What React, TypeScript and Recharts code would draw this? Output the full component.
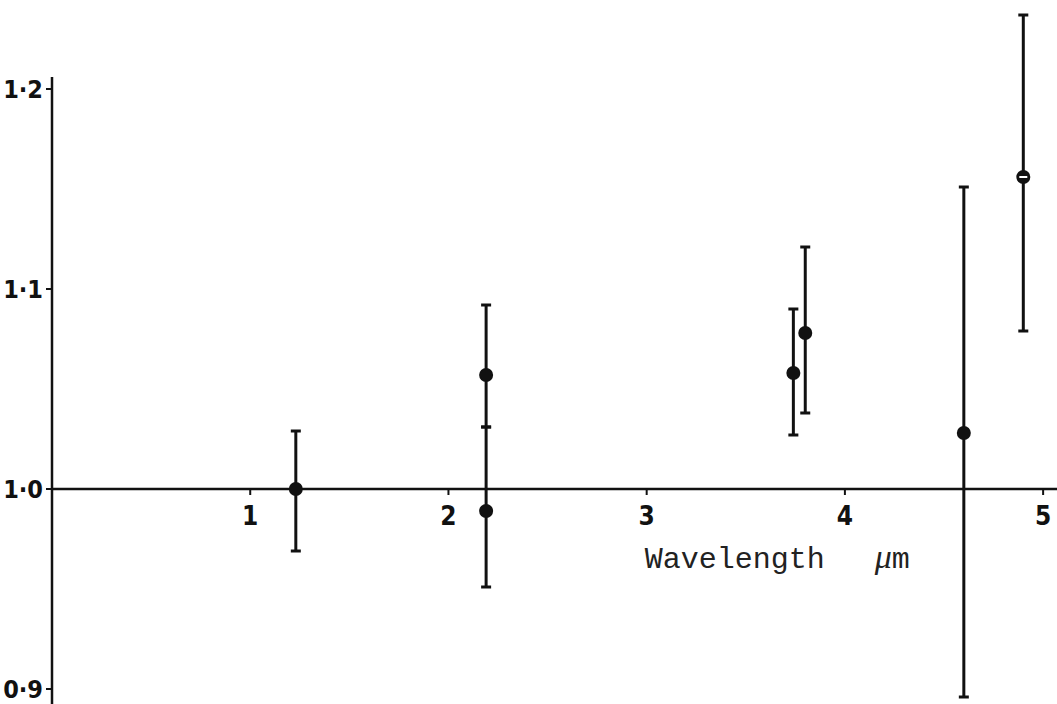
/**
 * Relative flux vs wavelength, with asymmetric error bars.
 */
import {
  ScatterChart,
  Scatter,
  XAxis,
  YAxis,
  ErrorBar,
  ReferenceLine,
  ReferenceDot,
} from 'recharts'

// filled points
const wavelength = [1.23, 2.19, 2.19, 3.74, 3.8, 4.6]
const ratio = [1.0, 1.057, 0.989, 1.058, 1.078, 1.028]
const errLow = [0.969, 1.031, 0.951, 1.027, 1.038, 0.896]
const errHigh = [1.029, 1.092, 1.031, 1.09, 1.121, 1.151]

// the open (barred) point at 4.9 um
const openWavelength = [4.9]
const openRatio = [1.156]
const openLow = [1.079]
const openHigh = [1.237]

const xTicks = [1, 2, 3, 4, 5]
const yTicks = [0.9, 1.0, 1.1, 1.2]

const toRows = (xs: number[], ys: number[], lo: number[], hi: number[]) =>
  xs.map((x, i) => ({ x, y: ys[i], err: [ys[i] - lo[i], hi[i] - ys[i]] }))

const filled = toRows(wavelength, ratio, errLow, errHigh)
const open = toRows(openWavelength, openRatio, openLow, openHigh)

const tickFont = "'DejaVu Sans Condensed', 'DejaVu Sans', sans-serif"

const FilledDot = (props: any) => (
  <circle cx={props.cx} cy={props.cy} r={7} fill="#111" />
)

// black disc with a white slit across it
const OpenDot = (props: any) => (
  <g>
    <circle cx={props.cx} cy={props.cy} r={7} fill="#111" />
    <line x1={props.cx - 4} x2={props.cx + 4} y1={props.cy} y2={props.cy} stroke="#fff" strokeWidth={2} />
  </g>
)

const YTick = (props: any) => (
  <text
    x={props.x - 1}
    y={props.y + 9}
    textAnchor="end"
    fontFamily={tickFont}
    fontWeight="bold"
    fontSize={25}
    fill="#111"
  >
    {props.payload.value.toFixed(1).replace('.', '·')}
  </text>
)

const XTickMark = (label: number) => (props: any) => (
  <g>
    <line x1={props.cx} x2={props.cx} y1={props.cy} y2={props.cy + 6} stroke="#111" strokeWidth={2} />
    <text
      x={props.cx}
      y={props.cy + 36}
      textAnchor="middle"
      fontFamily={tickFont}
      fontWeight="bold"
      fontSize={26}
      fill="#111"
    >
      {label}
    </text>
  </g>
)

const AxisTitle = (props: any) => (
  <text
    x={props.cx - 2}
    y={props.cy + 79}
    fontFamily="'Liberation Mono', monospace"
    fontSize={30}
    fill="#222"
  >
    Wavelength
    <tspan dx={50} fontFamily="'Liberation Serif', serif" fontStyle="italic" fontSize={34}>
      μ
    </tspan>
    <tspan>m</tspan>
  </text>
)

export default function App() {
  return (
    <div style={{ position: 'absolute', left: 0, top: 0, background: '#fff' }}>
      <ScatterChart
        width={1057}
        height={704}
        margin={{ top: 0, right: 0, bottom: 0, left: 0 }}
      >
        <XAxis type="number" dataKey="x" domain={[0, 5.07]} hide allowDataOverflow />
        <YAxis
          type="number"
          dataKey="y"
          width={52}
          domain={[0.8925, 1.2445]}
          allowDataOverflow
          ticks={yTicks}
          axisLine={false}
          tickLine={{ stroke: '#111', strokeWidth: 2 }}
          tickSize={6}
          tick={YTick}
        />
        {/* vertical axis line, stops just above 1.2 */}
        <ReferenceLine
          segment={[
            { x: 0, y: 0.8925 },
            { x: 0, y: 1.206 },
          ]}
          stroke="#111"
          strokeWidth={2.5}
          ifOverflow="visible"
        />
        {/* horizontal axis through 1.0 */}
        <ReferenceLine y={1.0} stroke="#111" strokeWidth={2.5} />
        {xTicks.map((t) => (
          <ReferenceDot key={t} x={t} y={1.0} shape={XTickMark(t)} ifOverflow="visible" />
        ))}
        <ReferenceDot x={3} y={1.0} shape={AxisTitle} ifOverflow="visible" />
        <Scatter data={filled} dataKey="y" shape={FilledDot} isAnimationActive={false}>
          <ErrorBar dataKey="err" direction="y" width={5} stroke="#111" strokeWidth={3} isAnimationActive={false} />
        </Scatter>
        <Scatter data={open} dataKey="y" shape={OpenDot} isAnimationActive={false}>
          <ErrorBar dataKey="err" direction="y" width={5} stroke="#111" strokeWidth={3} isAnimationActive={false} />
        </Scatter>
      </ScatterChart>
    </div>
  )
}
